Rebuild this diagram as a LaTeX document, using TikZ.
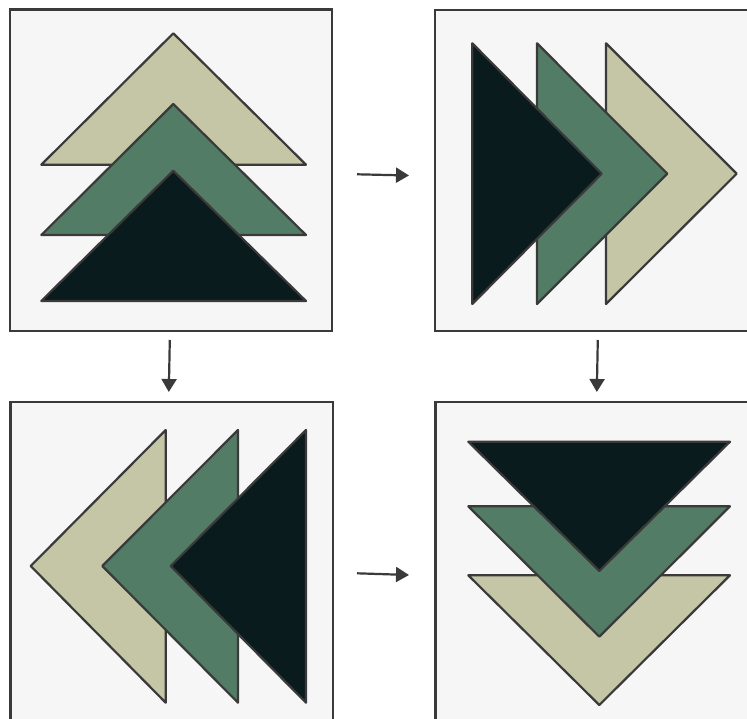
\documentclass[tikz,border=0pt]{standalone}
\usetikzlibrary{arrows.meta}
\definecolor{cLight}{HTML}{C4C6A6}
\definecolor{cMid}{HTML}{527C65}
\definecolor{cDark}{HTML}{0A1B1E}
\definecolor{cEdge}{HTML}{3A3A3A}
\definecolor{cPanel}{HTML}{F6F6F6}
\tikzset{
  panel/.style={draw=cEdge, fill=cPanel, line width=2.4pt},
  tri/.style={draw=cEdge, line width=2.2pt, line join=round},
  flow/.style={draw=cEdge, line width=2.2pt, -{Triangle[length=13pt,width=15pt]}}
}
\begin{document}
\begin{tikzpicture}[x=1pt,y=-1pt]
\clip (0,0) rectangle (747,719);
\fill[white] (0,0) rectangle (747,719);
% panels
\draw[panel] (10,9.5) rectangle (332,331);
\draw[panel] (435,10) rectangle (760,331);
\draw[panel] (10.3,401.7) rectangle (333,740);
\draw[panel] (435.3,401.7) rectangle (760,740);
% top-left: pointing up
\draw[tri, fill=cLight] (41.3,164.7) -- (173.3,33.3) -- (306,164.7) -- cycle;
\draw[tri, fill=cMid] (41.3,235) -- (173.3,104) -- (306,235) -- cycle;
\draw[tri, fill=cDark] (41.3,301) -- (173.3,170.7) -- (306,301) -- cycle;
% top-right: pointing right
\draw[tri, fill=cLight] (606,43.3) -- (736.7,173.7) -- (606,304) -- cycle;
\draw[tri, fill=cMid] (537,43.3) -- (667.3,173.7) -- (537,304) -- cycle;
\draw[tri, fill=cDark] (472.3,43.3) -- (601.7,173.7) -- (472.3,304) -- cycle;
% bottom-left: pointing left
\draw[tri, fill=cLight] (165.7,430) -- (30.7,566) -- (165.7,702.7) -- cycle;
\draw[tri, fill=cMid] (238,430) -- (102.3,566) -- (238,702.7) -- cycle;
\draw[tri, fill=cDark] (306,430) -- (170.7,566) -- (306,702.7) -- cycle;
% bottom-right: pointing down
\draw[tri, fill=cLight] (468.3,575.3) -- (599.3,705) -- (730,575.3) -- cycle;
\draw[tri, fill=cMid] (468.3,506.3) -- (599.3,636.7) -- (730,506.3) -- cycle;
\draw[tri, fill=cDark] (468.3,441.7) -- (599.3,571) -- (730,441.7) -- cycle;
% connector ends
\coordinate (a1) at (357,174.3);
\coordinate (a2) at (409,175.5);
\coordinate (b1) at (169.8,340);
\coordinate (b2) at (168.8,392);
\coordinate (c1) at (597.8,340);
\coordinate (c2) at (596.8,392);
\coordinate (d1) at (357,573.3);
\coordinate (d2) at (409,575);
\draw[flow] (a1) -- (a2);
\draw[flow] (b1) -- (b2);
\draw[flow] (c1) -- (c2);
\draw[flow] (d1) -- (d2);
\end{tikzpicture}
\end{document}
